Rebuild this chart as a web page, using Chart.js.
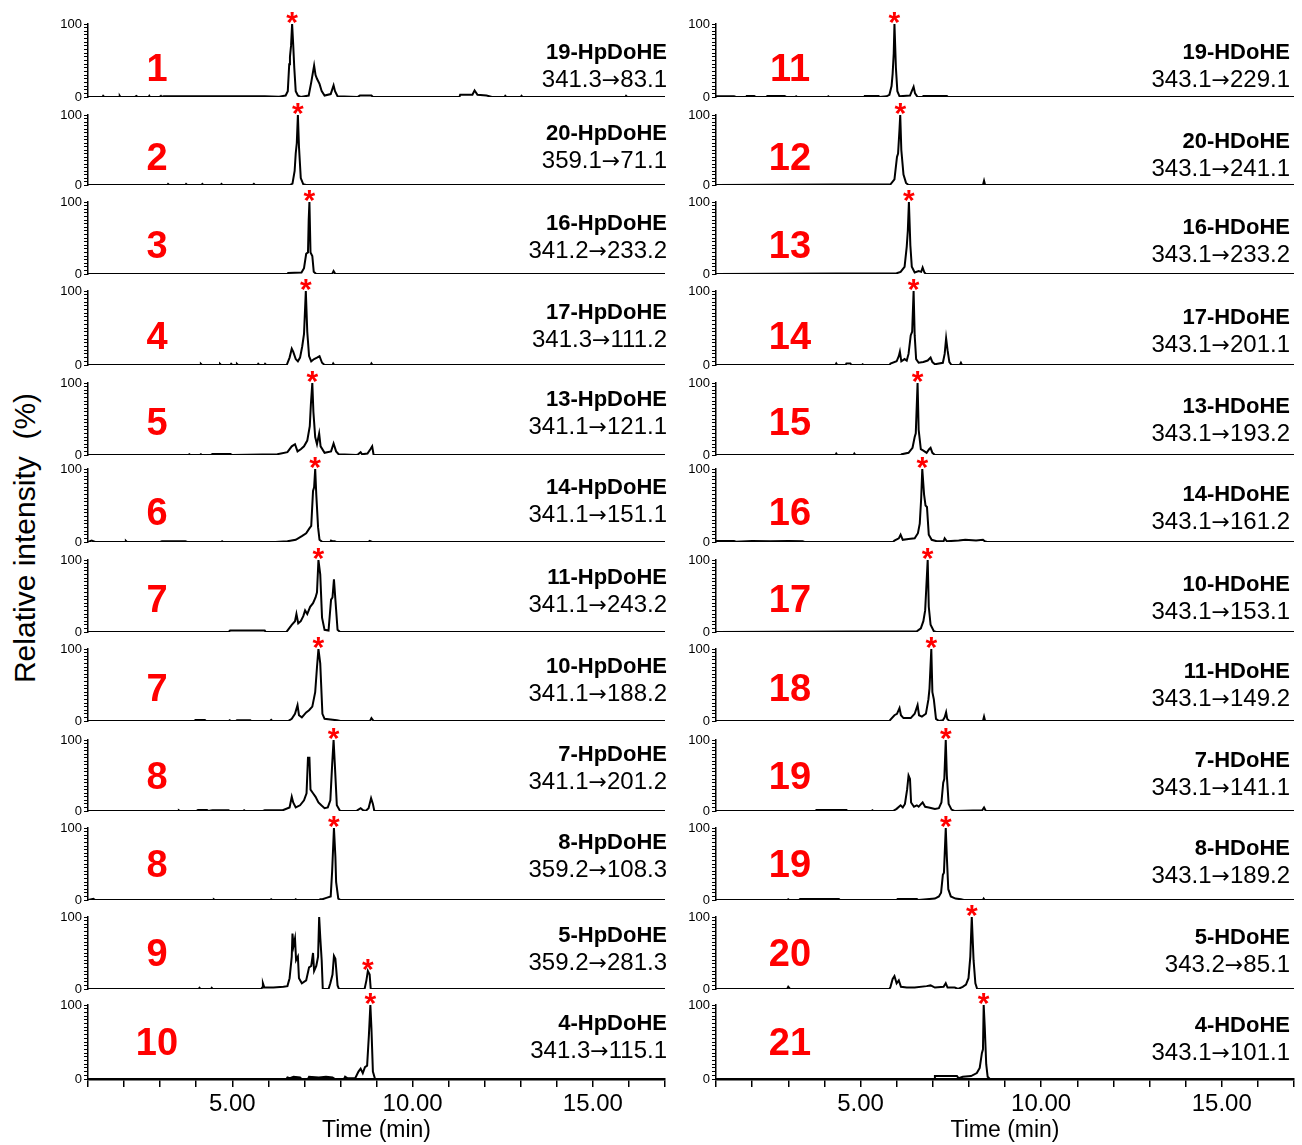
<!DOCTYPE html>
<html>
<head>
<meta charset="utf-8">
<title>HpDoHE / HDoHE MRM chromatograms</title>
<script src="https://cdn.jsdelivr.net/npm/chart.js@4.4.1/dist/chart.umd.min.js"></script>
<style>
  html, body { margin:0; padding:0; background:#fff; }
  #page { position:relative; width:1302px; height:1145px; overflow:hidden;
          font-family:"Liberation Sans", Arial, Helvetica, sans-serif; color:#000; }
  #page canvas { position:absolute; }
  .num { position:absolute; color:#ff0000; font-weight:bold; font-size:38px; line-height:1;
         transform:translate(-50%,-50%); white-space:nowrap; }
  .name { position:absolute; font-weight:bold; font-size:22px; line-height:1;
          transform:translateY(-50%); white-space:nowrap; }
  .trans { position:absolute; font-size:24px; line-height:1;
           transform:translateY(-50%); white-space:nowrap; }
  .arrow { font-family:"DejaVu Sans", sans-serif; font-size:22px; }
  #ytitle { position:absolute; left:25px; top:538px; font-size:30px; line-height:1; white-space:pre;
            transform:translate(-50%,-50%) rotate(-90deg); }
</style>
</head>
<body>
<div id="page"><div id="ytitle">Relative intensity  (%)</div></div>
<script>
// ---------- labels ----------
const leftNumbers = ['1','2','3','4','5','6','7','7','8','8','9','10'];
const leftNames = ['19-HpDoHE','20-HpDoHE','16-HpDoHE','17-HpDoHE','13-HpDoHE','14-HpDoHE',
                   '11-HpDoHE','10-HpDoHE','7-HpDoHE','8-HpDoHE','5-HpDoHE','4-HpDoHE'];
const leftTransitions = ['341.3→83.1','359.1→71.1','341.2→233.2','341.3→111.2','341.1→121.1','341.1→151.1',
                         '341.1→243.2','341.1→188.2','341.1→201.2','359.2→108.3','359.2→281.3','341.3→115.1'];
const rightNumbers = ['11','12','13','14','15','16','17','18','19','19','20','21'];
const rightNames = ['19-HDoHE','20-HDoHE','16-HDoHE','17-HDoHE','13-HDoHE','14-HDoHE',
                    '10-HDoHE','11-HDoHE','7-HDoHE','8-HDoHE','5-HDoHE','4-HDoHE'];
const rightTransitions = ['343.1→229.1','343.1→241.1','343.1→233.2','343.1→201.1','343.1→193.2','343.1→161.2',
                          '343.1→153.1','343.1→149.2','343.1→141.1','343.1→189.2','343.2→85.1','343.1→101.1'];

// retention time (min) of the starred peak in each trace
const leftStarTimes  = [6.66, 6.82, 7.14, 7.04, 7.22, 7.30, 7.39, 7.39, 7.81, 7.82, 8.76, 8.83];
const rightStarTimes = [5.94, 6.10, 6.34, 6.47, 6.58, 6.71, 6.86, 6.96, 7.36, 7.36, 8.08, 8.41];

// time axis
const timeMin = 1, timeMax = 17, timeStep = 1, timeLabelEvery = 5;
const intensityTicks = [0, 100];

// ---------- traces: [time (min), relative intensity (%)] ----------
const hp19 = [[1,0],[1.4,0],[1.42,1.5],[1.45,0],[1.86,0],[1.88,1.5],[1.9,0],[2.3,0],[2.34,1.5],[2.38,0],[2.68,0],[2.7,1.5],[2.72,0],[2.98,0],[3.02,1.5],[3.04,0],[3.1,1],[5.9,1],[6.3,0.5],[6.48,2],[6.54,8],[6.58,45],[6.6,55],[6.63,70],[6.66,100],[6.69,72],[6.72,40],[6.76,8],[6.82,2],[6.9,0],[7.12,2],[7.19,20],[7.27,43],[7.31,30],[7.35,25],[7.42,18],[7.48,8],[7.56,2],[7.73,4],[7.81,16],[7.85,8],[7.92,1],[8.47,0],[8.54,2],[8.86,2],[8.9,0],[11.3,0],[11.32,3],[11.66,3],[11.72,9],[11.8,3],[12.05,2],[12.2,0],[12.55,0],[12.57,1.5],[12.6,0],[13.0,0],[13.02,1.5],[13.05,0],[15.9,0],[15.92,1.5],[15.95,0],[17,0]];
const hp20 = [[1,0],[3.2,0],[3.22,1.5],[3.25,0],[3.7,0],[3.72,1.5],[3.75,0],[4.15,0],[4.17,1.5],[4.2,0],[4.68,0],[4.7,1.5],[4.73,0],[5.57,0],[5.6,1.5],[5.63,0],[6.6,0],[6.67,2],[6.73,20],[6.76,45],[6.79,60],[6.82,100],[6.85,55],[6.9,10],[6.97,1],[7.05,0],[17,0]];
const hp16 = [[1,0],[6.53,0],[6.55,1.5],[6.92,2],[6.99,8],[7.05,28],[7.1,30],[7.12,75],[7.14,100],[7.17,30],[7.22,25],[7.26,3],[7.33,0],[7.77,0],[7.81,4],[7.86,0],[17,0]];
const hp17 = [[1,0],[4.11,0],[4.13,1.5],[4.16,0],[4.64,0],[4.66,1.5],[4.69,0],[4.95,0],[4.97,1.5],[5.0,0],[5.11,0],[5.13,1.5],[5.16,0],[5.7,0],[5.72,1.5],[5.75,0],[5.89,0],[5.91,1.5],[5.94,0],[6.51,0],[6.59,10],[6.65,22],[6.69,18],[6.76,8],[6.82,5],[6.88,10],[6.94,25],[6.99,42],[7.04,100],[7.08,45],[7.13,12],[7.19,5],[7.27,8],[7.35,10],[7.42,12],[7.49,3],[7.56,0],[7.78,0],[7.8,2],[7.83,0],[8.84,0],[8.86,2],[8.89,0],[17,0]];
const hp13 = [[1,0],[3.78,0],[3.81,1],[3.84,0],[4.1,0],[4.13,1],[4.16,0],[4.4,0],[4.45,1.5],[4.95,1.5],[5.0,0],[6.25,1],[6.53,4],[6.65,12],[6.74,15],[6.81,5],[6.9,8],[6.99,12],[7.08,20],[7.15,40],[7.18,70],[7.22,100],[7.25,60],[7.3,25],[7.35,15],[7.41,30],[7.45,12],[7.56,3],[7.74,5],[7.81,16],[7.88,5],[7.95,1],[8.45,0],[8.49,1],[8.56,4],[8.6,1],[8.75,2],[8.83,8],[8.88,12],[8.92,0],[17,0]];
const hp14 = [[1,0],[1.1,2],[1.2,0],[2.03,0],[2.05,1.5],[2.08,0],[3.0,0],[3.05,1],[3.7,1],[3.75,0],[4.7,0],[4.72,1],[4.75,0],[6.2,0],[6.53,1],[6.76,3],[6.93,8],[7.05,12],[7.13,18],[7.19,22],[7.24,70],[7.27,75],[7.3,100],[7.33,65],[7.38,20],[7.42,3],[7.5,0],[7.72,0],[7.74,2],[7.78,1],[7.84,1],[7.88,0],[8.78,0],[8.81,1.5],[8.88,0],[17,0]];
const hp11 = [[1,0],[4.9,0],[4.94,2],[5.9,2],[5.93,0],[6.5,0],[6.53,2],[6.65,10],[6.74,15],[6.78,25],[6.83,12],[6.9,15],[6.97,22],[7.02,30],[7.08,25],[7.16,35],[7.24,40],[7.31,48],[7.35,55],[7.39,100],[7.44,80],[7.49,20],[7.56,3],[7.67,2],[7.74,45],[7.78,48],[7.82,73],[7.86,45],[7.92,3],[7.99,0],[17,0]];
const hp10 = [[1,0],[3.95,0],[3.98,1.5],[4.24,1.5],[4.27,0],[4.9,0],[4.93,1],[4.96,0],[5.1,0],[5.13,1],[5.5,1],[5.53,0],[6.05,0],[6.08,1.5],[6.11,0],[6.55,0],[6.65,3],[6.74,10],[6.81,22],[6.85,8],[6.93,5],[7.05,12],[7.13,15],[7.22,20],[7.3,40],[7.35,75],[7.39,100],[7.44,80],[7.5,10],[7.56,3],[7.9,1],[8.0,0],[8.82,0],[8.86,4],[8.92,0],[17,0]];
const hp7 = [[1,0],[3.5,0],[3.52,1],[3.55,0],[4.0,0],[4.05,1.5],[4.3,1.5],[4.33,0],[4.45,1],[4.9,1],[4.93,0],[5.3,0],[5.33,1],[5.36,0],[5.85,0],[5.9,1],[6.4,1],[6.59,5],[6.65,20],[6.69,12],[6.76,5],[6.88,8],[6.99,15],[7.06,25],[7.1,75],[7.14,75],[7.17,30],[7.24,25],[7.31,20],[7.39,12],[7.47,8],[7.56,4],[7.65,5],[7.72,15],[7.77,65],[7.81,100],[7.85,60],[7.9,8],[7.99,0],[8.45,0],[8.47,1],[8.56,4],[8.63,1],[8.7,0],[8.78,4],[8.85,18],[8.9,10],[8.94,0],[17,0]];
const hp8 = [[1,0],[1.15,1.5],[1.2,0],[4.47,0],[4.49,1],[4.52,0],[6.06,0],[6.08,1],[6.11,0],[6.74,0],[6.76,1],[6.79,0],[7.42,0],[7.44,1],[7.5,1],[7.61,3],[7.73,5],[7.77,40],[7.82,100],[7.86,60],[7.88,25],[7.94,2],[8.0,0],[17,0]];
const hp5 = [[1,0],[4.07,0],[4.09,1.5],[4.12,0],[4.41,0],[4.43,1.5],[4.46,0],[5.8,0],[5.83,2],[5.85,8],[5.89,2],[6.14,2],[6.42,3],[6.53,4],[6.59,15],[6.65,45],[6.67,77],[6.7,60],[6.74,70],[6.77,40],[6.82,45],[6.85,15],[6.93,8],[7.05,12],[7.13,30],[7.19,32],[7.24,50],[7.27,25],[7.33,32],[7.38,45],[7.41,100],[7.44,72],[7.48,40],[7.51,0],[7.67,0],[7.72,8],[7.78,20],[7.82,46],[7.86,42],[7.92,5],[7.96,0],[8.67,0],[8.72,12],[8.76,25],[8.81,20],[8.84,0],[17,0]];
const hp4 = [[1,0],[6.5,0],[6.53,2],[6.6,1],[6.7,3],[6.88,2],[6.92,0],[7.1,0],[7.13,3],[7.4,2],[7.6,3],[7.78,2],[7.85,0],[8.1,0],[8.13,3],[8.2,1],[8.41,1],[8.5,10],[8.56,14],[8.62,8],[8.68,16],[8.74,18],[8.79,60],[8.83,100],[8.86,68],[8.9,10],[8.96,0],[17,0]];

const h19 = [[1,0],[1.02,1],[1.5,1],[1.55,0],[1.83,0],[1.85,1.5],[2.06,1.5],[2.1,0],[2.4,0],[2.42,1.5],[2.9,1.5],[2.95,0],[3.2,0],[3.22,1],[3.25,0],[4.09,0],[4.11,1],[4.14,0],[5.1,0],[5.12,1.5],[5.5,1.5],[5.53,0],[5.72,1],[5.8,3],[5.86,15],[5.89,32],[5.92,60],[5.94,100],[5.98,40],[6.02,8],[6.08,1],[6.37,2],[6.42,8],[6.47,14],[6.51,5],[6.58,0],[6.72,0],[6.74,1.5],[7.39,1.5],[7.42,0],[17,0]];
const h20 = [[1,0],[5.83,1],[5.94,8],[6.01,40],[6.04,45],[6.08,80],[6.1,100],[6.13,50],[6.19,15],[6.26,3],[6.33,0],[8.39,0],[8.42,6],[8.45,0],[17,0]];
const h16 = [[1,0],[6.0,1],[6.11,3],[6.22,10],[6.28,38],[6.31,60],[6.34,100],[6.38,40],[6.42,10],[6.5,2],[6.61,4],[6.68,3],[6.72,9],[6.77,2],[6.81,0],[17,0]];
const h17 = [[1,0],[4.31,0],[4.33,2],[4.36,0],[4.59,0],[4.61,2],[4.72,2],[4.75,0],[5.04,0],[5.06,1],[5.09,0],[5.8,0],[5.83,2],[6.0,5],[6.06,12],[6.09,18],[6.13,5],[6.22,8],[6.28,6],[6.33,15],[6.39,40],[6.43,45],[6.47,100],[6.5,40],[6.54,8],[6.61,3],[6.74,4],[6.86,6],[6.94,10],[6.99,4],[7.06,1],[7.28,3],[7.33,15],[7.37,36],[7.41,20],[7.46,4],[7.52,0],[7.75,0],[7.78,3],[7.81,0],[17,0]];
const h13 = [[1,0],[4.31,0],[4.33,2],[4.36,0],[4.81,0],[4.83,2],[4.86,0],[6.11,0],[6.14,1],[6.33,3],[6.44,10],[6.5,25],[6.53,30],[6.58,100],[6.61,35],[6.67,8],[6.74,6],[6.83,3],[6.9,8],[6.94,10],[6.99,3],[7.06,0],[17,0]];
const h14 = [[1,0],[1.02,1.5],[1.5,1.5],[1.55,0.5],[2.0,1.5],[2.5,1],[3.0,1.5],[3.4,1],[3.45,0],[5.9,0],[5.94,2],[6.06,5],[6.11,10],[6.17,3],[6.33,4],[6.5,5],[6.59,12],[6.64,25],[6.68,60],[6.71,100],[6.76,65],[6.8,50],[6.84,48],[6.89,10],[6.97,3],[7.11,1],[7.3,1],[7.33,5],[7.39,1],[7.72,2],[7.9,3],[8.2,2],[8.39,3],[8.44,1],[8.5,0],[17,0]];
const h10 = [[1,0],[6.56,1],[6.67,5],[6.74,15],[6.79,30],[6.82,60],[6.86,100],[6.89,35],[6.94,10],[7.03,1],[7.1,0],[17,0]];
const h11 = [[1,0],[5.8,0],[5.83,2],[5.94,8],[6.01,10],[6.08,18],[6.12,8],[6.19,4],[6.39,4],[6.5,10],[6.58,22],[6.62,8],[6.7,6],[6.81,10],[6.88,30],[6.91,45],[6.96,100],[6.99,40],[7.03,30],[7.09,3],[7.17,0],[7.28,1],[7.33,5],[7.37,12],[7.4,3],[7.46,0],[8.39,0],[8.42,6],[8.45,0],[17,0]];
const h7 = [[1,0],[3.75,0],[3.78,1.5],[4.61,1.5],[4.64,0],[5.31,0],[5.33,1],[5.36,0],[5.9,0],[6.0,3],[6.11,8],[6.17,5],[6.23,10],[6.29,30],[6.33,50],[6.37,45],[6.4,12],[6.48,6],[6.56,8],[6.61,6],[6.68,10],[6.72,12],[6.79,6],[6.89,5],[7.06,3],[7.17,4],[7.24,12],[7.29,40],[7.32,45],[7.36,100],[7.39,50],[7.44,10],[7.52,2],[7.6,0],[8.37,1],[8.42,5],[8.47,0],[17,0]];
const h8 = [[1,0],[2.98,0],[3.0,1],[3.03,0],[3.3,0],[3.33,1.5],[4.4,1.5],[4.43,0],[6.0,0],[6.03,1.5],[6.56,1.5],[6.6,0],[7.06,2],[7.17,5],[7.23,10],[7.28,35],[7.31,38],[7.36,100],[7.39,60],[7.43,15],[7.5,5],[7.63,2],[7.78,1],[7.86,0],[8.39,0],[8.41,2],[8.44,0],[17,0]];
const h5 = [[1,0],[2.97,0],[3.0,3],[3.05,0],[5.8,0],[5.83,3],[5.89,14],[5.94,18],[6.0,8],[6.06,12],[6.12,3],[6.28,2],[6.5,2],[6.83,4],[6.94,5],[7.06,2],[7.3,3],[7.36,8],[7.41,2],[7.61,2],[7.7,0],[7.83,3],[7.92,6],[7.99,15],[8.04,45],[8.08,100],[8.13,40],[8.18,8],[8.23,0],[17,0]];
const h4 = [[1,0],[7.04,0],[7.06,4],[7.67,4],[7.72,1],[7.83,3],[8.06,4],[8.22,8],[8.3,15],[8.36,35],[8.39,40],[8.41,100],[8.44,70],[8.48,20],[8.52,3],[8.58,0],[17,0]];

const leftTraces  = [hp19, hp20, hp16, hp17, hp13, hp14, hp11, hp10, hp7, hp8, hp5, hp4];
const rightTraces = [h19, h20, h16, h17, h13, h14, h10, h11, h7, h8, h5, h4];

// ---------- page layout (pixels) ----------
const rowTop  = [24, 115, 202, 291, 383, 469, 560, 649, 740, 828, 917, 1005];   // 100 % line
const rowBase = [97, 185, 274, 365, 455, 542, 632, 721, 811, 900, 989, 1079];   // 0 % line
const columns = [
  { canvasLeft: 40,  axisX: 88,  plotRight: 665,  labelRight: 667,  numX: 157,
    nameY: [52,133,223,312,399,487,577,666,754,842,935,1023] },
  { canvasLeft: 680, axisX: 716, plotRight: 1294, labelRight: 1290, numX: 790,
    nameY: [52,141,227,317,406,494,584,671,760,848,937,1025] }
];
const numY = [68, 157, 245, 336, 422, 512, 599, 688, 776, 864, 953, 1042];
const PAD_TOP = 30, PAD_BOTTOM = 12, X_AXIS_H = 66, PAD_RIGHT = 4;

const FONT = '"Liberation Sans", Arial, Helvetica, sans-serif';
Chart.defaults.font.family = FONT;
Chart.defaults.color = '#000';

// red asterisk above the marked peak
const peakStar = {
  id: 'peakStar',
  afterDatasetsDraw(chart, args, opts) {
    if (opts.t == null) return;
    const pts = chart.data.datasets[0].data;
    let best = null;
    pts.forEach(p => {
      if (Math.abs(p.x - opts.t) <= 0.05 && (!best || p.y > best.y)) best = p;
    });
    if (!best) return;
    const x = chart.scales.x.getPixelForValue(best.x);
    const y = chart.scales.y.getPixelForValue(best.y);
    const ctx = chart.ctx;
    ctx.save();
    ctx.fillStyle = '#ff0000';
    ctx.font = 'bold 30px ' + FONT;
    ctx.textAlign = 'center';
    ctx.textBaseline = 'alphabetic';
    ctx.fillText('*', x, y + 8);
    ctx.restore();
  }
};

const page = document.getElementById('page');

function addText(cls, text, css) {
  const d = document.createElement('div');
  d.className = cls;
  Object.assign(d.style, css);
  // the transition arrow uses a font whose arrow glyph is full size
  text.split('→').forEach((part, i) => {
    if (i > 0) {
      const a = document.createElement('span');
      a.className = 'arrow';
      a.textContent = '→';
      d.appendChild(a);
    }
    d.appendChild(document.createTextNode(part));
  });
  page.appendChild(d);
}

function makePanel(col, row, trace, starT) {
  const c = columns[col];
  const isBottom = row === rowTop.length - 1;
  const plotH = rowBase[row] - rowTop[row];
  const w = c.plotRight - c.canvasLeft + PAD_RIGHT;
  const h = PAD_TOP + plotH + (isBottom ? X_AXIS_H : PAD_BOTTOM);
  const canvas = document.createElement('canvas');
  canvas.width = w; canvas.height = h;
  canvas.style.width = w + 'px'; canvas.style.height = h + 'px';
  canvas.style.left = c.canvasLeft + 'px';
  canvas.style.top = (rowTop[row] - PAD_TOP) + 'px';
  page.appendChild(canvas);

  new Chart(canvas, {
    type: 'line',
    data: {
      datasets: [{
        data: trace.map(([x, y]) => ({ x, y })),
        borderColor: '#000',
        borderWidth: 2,
        pointRadius: 0,
        tension: 0,
        fill: false
      }]
    },
    options: {
      responsive: false,
      animation: false,
      devicePixelRatio: 1,
      events: [],
      layout: { padding: { top: PAD_TOP, bottom: isBottom ? 0 : PAD_BOTTOM, left: 0, right: PAD_RIGHT } },
      plugins: { legend: { display: false }, tooltip: { enabled: false }, peakStar: { t: starT } },
      scales: {
        x: {
          type: 'linear', min: timeMin, max: timeMax, display: isBottom,
          afterFit: s => { if (isBottom) s.height = X_AXIS_H; },
          border: { display: true, color: '#000', width: 2.5 },
          grid: { drawOnChartArea: false, drawTicks: true, tickLength: 8, color: '#000', lineWidth: 1.5 },
          ticks: {
            stepSize: timeStep, autoSkip: false, maxRotation: 0, padding: 3,
            font: { size: 24 }, color: '#000',
            callback: v => (v % timeLabelEvery === 0 ? v.toFixed(2) : '')
          },
          title: { display: true, text: 'Time (min)', font: { size: 23 }, color: '#000',
                   padding: { top: 0, bottom: 1 } }
        },
        y: {
          min: 0, max: 100,
          afterFit: s => { s.width = c.axisX - c.canvasLeft; },
          border: { display: true, color: '#000', width: 1.5 },
          grid: { drawOnChartArea: false, drawTicks: true, tickLength: 4, color: '#000', lineWidth: 1 },
          ticks: {
            stepSize: 5, autoSkip: false, padding: 2, font: { size: 13 }, color: '#000',
            callback: v => (intensityTicks.includes(v) ? String(v) : '')
          }
        }
      }
    },
    plugins: [peakStar]
  });
}

[[leftTraces, leftStarTimes, leftNumbers, leftNames, leftTransitions],
 [rightTraces, rightStarTimes, rightNumbers, rightNames, rightTransitions]].forEach(
  ([traces, stars, nums, names, trans], col) => {
    const c = columns[col];
    traces.forEach((tr, row) => {
      makePanel(col, row, tr, stars[row]);
      addText('num', nums[row], { left: c.numX + 'px', top: numY[row] + 'px' });
      addText('name', names[row], { right: (1302 - c.labelRight) + 'px', top: c.nameY[row] + 'px' });
      addText('trans', trans[row], { right: (1302 - c.labelRight) + 'px', top: (c.nameY[row] + 27) + 'px' });
    });
  });
</script>
</body>
</html>
